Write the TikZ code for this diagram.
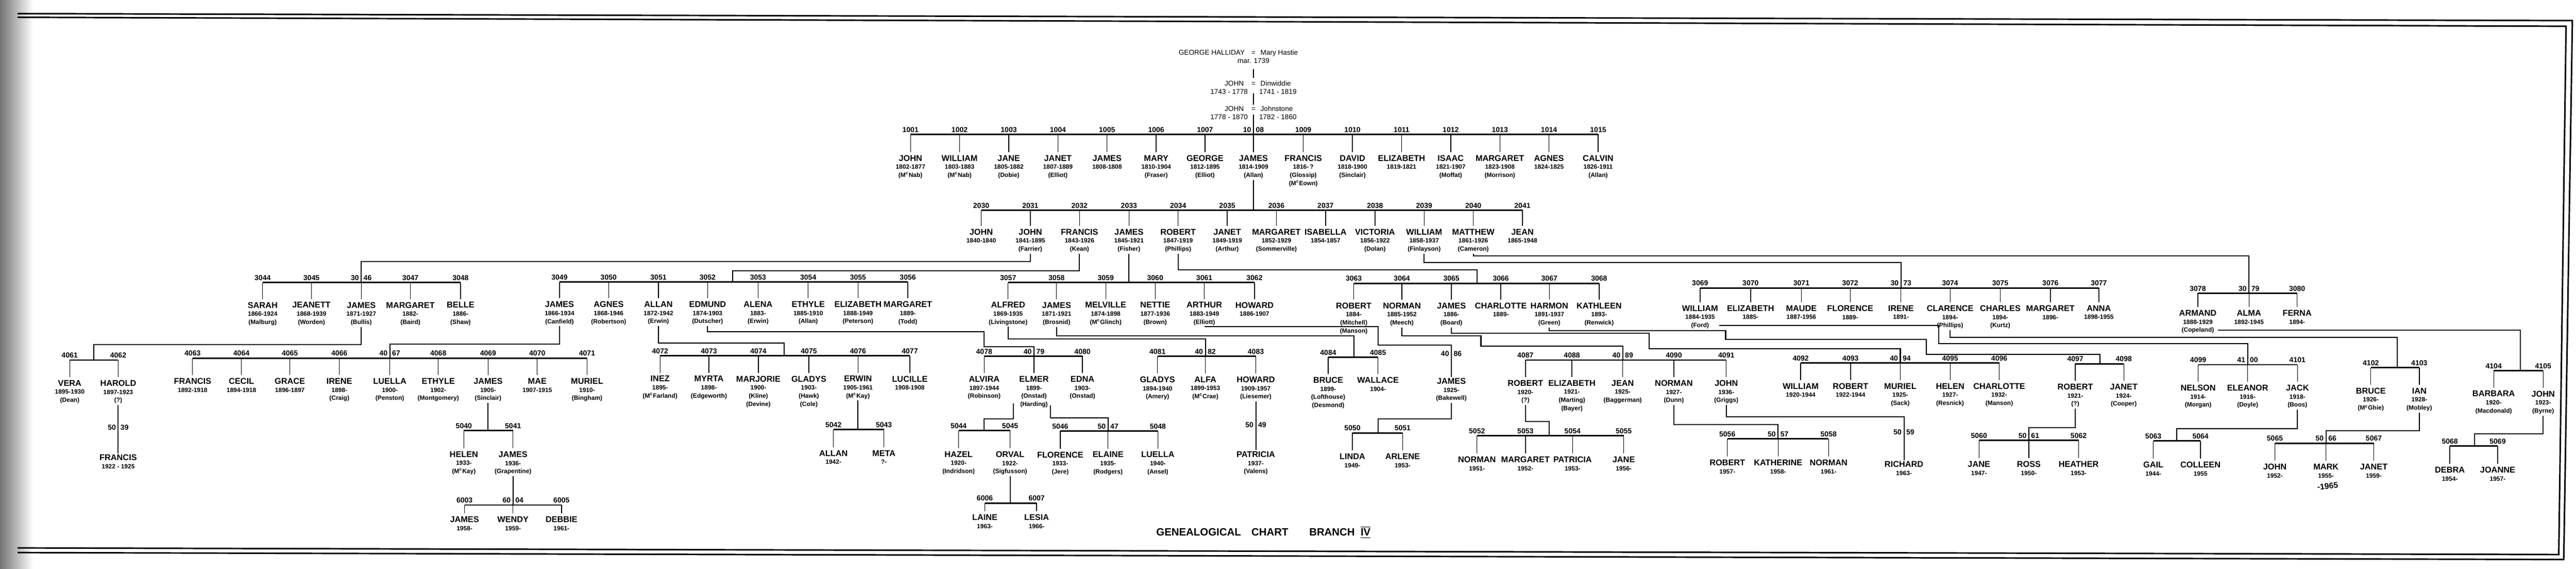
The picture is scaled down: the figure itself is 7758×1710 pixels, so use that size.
\documentclass[tikz,border=0pt]{standalone}
\usepackage{fontspec}
\setmainfont{Liberation Sans}
\usetikzlibrary{calc}

\newcommand{\namefont}{\bfseries\fontsize{7.2}{6.9}\selectfont}
\newcommand{\smallfont}{\bfseries\fontsize{5.3}{6.9}\selectfont}
\newcommand{\Mc}{M\textsuperscript{c}}
% numbers that a connector runs through are split in two
\def\gapsplit#1#2#3#4\relax{#1#2\hspace{4pt}#3#4}
\newcommand{\markgap}[1]{\expandafter\def\csname gap#1\endcsname{}}
\newcommand{\idtext}[1]{\ifcsname gap#1\endcsname\expandafter\gapsplit#1\relax\else#1\fi}
\markgap{1008}\markgap{3046}\markgap{3073}\markgap{3079}\markgap{4067}
\markgap{4079}\markgap{4082}\markgap{4086}\markgap{4089}\markgap{4094}
\markgap{4100}\markgap{5039}\markgap{5047}\markgap{5049}\markgap{5057}
\markgap{5059}\markgap{5061}\markgap{5066}\markgap{6004}

\tikzset{
  person/.style={anchor=north,align=center,inner sep=1pt,font=\smallfont},
  idlab/.style={anchor=south,inner sep=1pt,font=\bfseries\fontsize{6.2}{7}\selectfont},
  hdr/.style={anchor=base,inner sep=1pt,font=\fontsize{6}{7}\selectfont},
  bar/.style={line width=1.3pt},
  drop/.style={line width=0.6pt,shorten >=1.5pt},
  link/.style={line width=0.9pt},
  frame/.style={line width=1.3pt,line join=miter}
}

% one row of brothers and sisters: bar y, name y, first, last, list
\newcommand{\sibs}[5]{%
  \foreach \id/\x/\nm/\dt/\sps in {#5}{
    \coordinate (b\id) at (\x,#1);
    \node[idlab] (i\id) at (\x,#1-2) {\idtext{\id}};
    \node[person] (p\id) at (\x,#2-3.5) {{\namefont\nm}\\\dt\\\sps};
    \draw[drop] (b\id) -- (p\id.north);
  }
  \draw[bar] (b#3) -- (b#4);
}

\begin{document}
\begin{tikzpicture}[x=0.01cm,y=-0.01cm]
\useasboundingbox (0,0) rectangle (7758,1710);
\fill[white] (0,0) rectangle (7758,1710);
\shade[left color=black!55,right color=white] (0,0) rectangle (100,1710);
%% page frame
\draw[frame] (53,41) -- (7747,62) -- (7721,1683) -- (53,1662);
\draw[frame] (53,52) -- (7728,79) -- (7706,1668) -- (53,1648);

%% heads of the branch
\node[hdr,anchor=base east] (gh) at (3753,165) {GEORGE HALLIDAY};
\node[hdr] (eq1) at (3775,165) {=};
\node[hdr,anchor=base west] (mh) at (3792,165) {Mary Hastie};
\node[hdr] (mar) at (3775,190) {mar. 1739};
\node[hdr,anchor=base east] (jd) at (3750,259) {JOHN};
\node[hdr] (eq2) at (3775,259) {=};
\node[hdr,anchor=base west] (dw) at (3792,259) {Dinwiddie};
\node[hdr,anchor=base east] (jdd) at (3762,283) {1743 - 1778};
\node[hdr,anchor=base west] (dwd) at (3788,283) {1741 - 1819};
\node[hdr,anchor=base east] (jj) at (3750,335) {JOHN};
\node[hdr] (eq3) at (3775,335) {=};
\node[hdr,anchor=base west] (js) at (3792,335) {Johnstone};
\node[hdr,anchor=base east] (jjd) at (3762,359) {1778 - 1870};
\node[hdr,anchor=base west] (jsd) at (3788,359) {1782 - 1860};

%% generation 1
\sibs{404}{466}{1001}{1015}{
 1001/2742/JOHN/1802-1877/(\Mc Nab),
 1002/2890/WILLIAM/1803-1883/(\Mc Nab),
 1003/3038/JANE/1805-1882/(Dobie),
 1004/3186/JANET/1807-1889/(Elliot),
 1005/3334/JAMES/1808-1808/{},
 1006/3482/MARY/1810-1904/(Fraser),
 1007/3629/GEORGE/1812-1895/(Elliot),
 1008/3775/JAMES/1814-1909/(Allan),
 1009/3925/FRANCIS/1816-\,?/(Glossip)\\(\Mc Eown),
 1010/4073/DAVID/1818-1900/(Sinclair),
 1011/4221/ELIZABETH/1819-1821/{},
 1012/4369/ISAAC/1821-1907/(Moffat),
 1013/4517/MARGARET/1823-1908/(Morrison),
 1014/4665/AGNES/1824-1825/{},
 1015/4813/CALVIN/1826-1911/(Allan)}

%% generation 2
\sibs{632}{688}{2030}{2041}{
 2030/2955/JOHN/1840-1840/{},
 2031/3103/JOHN/1841-1895/(Farrier),
 2032/3251/FRANCIS/1843-1926/(Kean),
 2033/3400/JAMES/1845-1921/(Fisher),
 2034/3548/ROBERT/1847-1919/(Phillips),
 2035/3696/JANET/1849-1919/(Arthur),
 2036/3844/MARGARET/1852-1929/(Sommerville),
 2037/3992/ISABELLA/1854-1857/{},
 2038/4141/VICTORIA/1856-1922/(Dolan),
 2039/4289/WILLIAM/1858-1937/(Finlayson),
 2040/4437/MATTHEW/1861-1926/(Cameron),
 2041/4585/JEAN/1865-1948/{}}

%% generation 3
\sibs{850}{908}{3044}{3048}{
 3044/791/SARAH/1866-1924/(Malburg),
 3045/938/JEANETT/1868-1939/(Worden),
 3046/1088/JAMES/1871-1927/(Bullis),
 3047/1236/MARGARET/1882-/(Baird),
 3048/1387/BELLE/1886-/(Shaw)}
\sibs{848}{906}{3049}{3056}{
 3049/1685/JAMES/1866-1934/(Canfield),
 3050/1833/AGNES/1868-1946/(Robertson),
 3051/1983/ALLAN/1872-1942/(Erwin),
 3052/2131/EDMUND/1874-1903/(Dutscher),
 3053/2283/ALENA/1883-/(Erwin),
 3054/2434/ETHYLE/1885-1910/(Allan),
 3055/2584/ELIZABETH/1888-1949/(Peterson),
 3056/2734/MARGARET/1889-/(Todd)}
\sibs{850}{908}{3057}{3062}{
 3057/3036/ALFRED/1869-1935/(Livingstone),
 3058/3182/JAMES/1871-1921/(Brosnid),
 3059/3330/MELVILLE/1874-1898/(\Mc Glinch),
 3060/3479/NETTIE/1877-1936/(Brown),
 3061/3627/ARTHUR/1883-1949/(Elliott),
 3062/3778/HOWARD/1886-1907/{}}
\sibs{852}{910}{3063}{3068}{
 3063/4077/ROBERT/1884-/(Mitchell)\\(Manson),
 3064/4222/NORMAN/1885-1952/(Meech),
 3065/4371/JAMES/1886-/(Board),
 3066/4520/CHARLOTTE/1889-/{},
 3067/4666/HARMON/1891-1937/(Green),
 3068/4816/KATHLEEN/1893-/(Renwick)}
\sibs{866}{918}{3069}{3077}{
 3069/5120/WILLIAM/1884-1935/(Ford),
 3070/5272/ELIZABETH/1885-/{},
 3071/5425/MAUDE/1887-1956/{},
 3072/5572/FLORENCE/1889-/{},
 3073/5725/IRENE/1891-/{},
 3074/5873/CLARENCE/1894-/(Phillips),
 3075/6024/CHARLES/1894-/(Kurtz),
 3076/6175/MARGARET/1896-/{},
 3077/6321/ANNA/1898-1955/{}}
\sibs{882}{932}{3078}{3080}{
 3078/6619/ARMAND/1888-1929/(Copeland),
 3079/6773/ALMA/1892-1945/{},
 3080/6918/FERNA/1894-/{}}

%% generation 4
\sibs{1083}{1143}{4061}{4062}{
 4061/210/VERA/1895-1930/(Dean),
 4062/356/HAROLD/1897-1923/(?)}
\sibs{1077}{1137}{4063}{4071}{
 4063/580/FRANCIS/1892-1918/{},
 4064/727/CECIL/1894-1918/{},
 4065/873/GRACE/1896-1897/{},
 4066/1022/IRENE/1898-/(Craig),
 4067/1174/LUELLA/1900-/(Penston),
 4068/1320/ETHYLE/1902-/(Montgomery),
 4069/1470/JAMES/1905-/(Sinclair),
 4070/1618/MAE/1907-1915/{},
 4071/1768/MURIEL/1910-/(Bingham)}
\sibs{1070}{1130}{4072}{4077}{
 4072/1988/INEZ/1895-/(\Mc Farland),
 4073/2135/MYRTA/1898-/(Edgeworth),
 4074/2284/MARJORIE/1900-/(Kline)\\(Devine),
 4075/2436/GLADYS/1903-/(Hawk)\\(Cole),
 4076/2584/ERWIN/1905-1961/(\Mc Kay),
 4077/2740/LUCILLE/1908-1908/{}}
\sibs{1071}{1131}{4078}{4080}{
 4078/2964/ALVIRA/1897-1944/(Robinson),
 4079/3114/ELMER/1899-/(Onstad)\\(Harding),
 4080/3260/EDNA/1903-/(Onstad)}
\sibs{1072}{1132}{4081}{4083}{
 4081/3486/GLADYS/1894-1940/(Amery),
 4082/3630/ALFA/1899-1953/(\Mc Crae),
 4083/3782/HOWARD/1909-1957/(Liesemer)}
\sibs{1074}{1134}{4084}{4085}{
 4084/4000/BRUCE/1899-/(Lofthouse)\\(Desmond),
 4085/4150/WALLACE/1904-/{}}
\node[idlab] (i4086) at (4371,1076) {\idtext{4086}};
\node[person] (p4086) at (4371,1133.5) {{\namefont JAMES}\\1925-\\(Bakewell)};
\sibs{1083}{1143}{4087}{4091}{
 4087/4594/ROBERT/1920-/(?),
 4088/4734/ELIZABETH/1921-/(Marting)\\(Bayer),
 4089/4887/JEAN/1925-/(Baggerman),
 4090/5041/NORMAN/1927-/(Dunn),
 4091/5199/JOHN/1936-/(Griggs)}
\sibs{1092}{1152}{4092}{4096}{
 4092/5423/WILLIAM/1920-1944/{},
 4093/5573/ROBERT/1922-1944/{},
 4094/5723/MURIEL/1925-/(Sack),
 4095/5873/HELEN/1927-/(Resnick),
 4096/6021/CHARLOTTE/1932-/(Manson)}
\sibs{1094}{1154}{4097}{4098}{
 4097/6250/ROBERT/1921-/(?),
 4098/6396/JANET/1924-/(Cooper)}
\sibs{1097}{1157}{4099}{4101}{
 4099/6620/NELSON/1914-/(Morgan),
 4100/6769/ELEANOR/1916-/(Doyle),
 4101/6919/JACK/1918-/(Boos)}
\sibs{1106}{1166}{4102}{4103}{
 4102/7140/BRUCE/1926-/(\Mc Ghie),
 4103/7286/IAN/1928-/(Mobley)}
\sibs{1115}{1175}{4104}{4105}{
 4104/7510/BARBARA/1920-/(Macdonald),
 4105/7659/JOHN/1923-/(Byrne)}

%% generation 5
\node[idlab] (i5039) at (356,1297) {\idtext{5039}};
\node[person] (p5039) at (356,1363.5) {{\namefont FRANCIS}\\1922 - 1925};
\sibs{1295}{1357}{5040}{5041}{
 5040/1397/HELEN/1933-/(\Mc Kay),
 5041/1545/JAMES/1936-/(Grapentine)}
\sibs{1292}{1354}{5042}{5043}{
 5042/2510/ALLAN/1942-/{},
 5043/2662/META/?-/{}}
\sibs{1295}{1357}{5044}{5045}{
 5044/2887/HAZEL/1920-/(Indridson),
 5045/3042/ORVAL/1922-/(Sigfusson)}
\sibs{1296}{1358}{5046}{5048}{
 5046/3193/FLORENCE/1933-/(Jere),
 5047/3337/ELAINE/1935-/(Rodgers),
 5048/3487/LUELLA/1940-/(Ansel)}
\node[idlab] (i5049) at (3782,1290) {\idtext{5049}};
\node[person] (p5049) at (3782,1353.5) {{\namefont PATRICIA}\\1937-\\(Valens)};
\sibs{1302}{1364}{5050}{5051}{
 5050/4073/LINDA/1949-/{},
 5051/4224/ARLENE/1953-/{}}
\sibs{1311}{1373}{5052}{5055}{
 5052/4448/NORMAN/1951-/{},
 5053/4594/MARGARET/1952-/{},
 5054/4736/PATRICIA/1953-/{},
 5055/4890/JANE/1956-/{}}
\sibs{1320}{1382}{5056}{5058}{
 5056/5202/ROBERT/1957-/{},
 5057/5355/KATHERINE/1958-/{},
 5058/5507/NORMAN/1961-/{}}
\node[idlab] (i5059) at (5734,1312) {\idtext{5059}};
\node[person] (p5059) at (5734,1383.5) {{\namefont RICHARD}\\1963-};
\sibs{1325}{1387}{5060}{5062}{
 5060/5960/JANE/1947-/{},
 5061/6110/ROSS/1950-/{},
 5062/6260/HEATHER/1953-/{}}
\sibs{1326}{1388}{5063}{5064}{
 5063/6485/GAIL/1944-/{},
 5064/6627/COLLEEN/1955/{}}
\sibs{1333}{1395}{5065}{5067}{
 5065/6851/JOHN/1952-/{},
 5066/7005/MARK/1955-/{},
 5067/7149/JANET/1959-/{}}
\sibs{1342}{1404}{5068}{5069}{
 5068/7378/DEBRA/1954-/{},
 5069/7522/JOANNE/1957-/{}}

%% generation 6
\sibs{1519}{1553}{6003}{6005}{
 6003/1399/JAMES/1958-/{},
 6004/1545/WENDY/1959-/{},
 6005/1691/DEBBIE/1961-/{}}
\sibs{1513}{1547}{6006}{6007}{
 6006/2966/LAINE/1963-/{},
 6007/3122/LESIA/1966-/{}}

%% junctions on the bars
\coordinate (f2) at (3775,632);
\coordinate (f3b) at (2206,848);
\coordinate (f3c) at (3400,850);
\coordinate (f3d) at (4448,852);
\coordinate (f4g) at (282,1083);
\coordinate (f4i) at (2362,1070);
\coordinate (f4l) at (4077,1074);
\coordinate (f4p) at (6324,1094);
\coordinate (f4r) at (7219,1106);
\coordinate (f4s) at (7590,1115);
\coordinate (f5t) at (1470,1295);
\coordinate (f5u) at (2584,1292);
\coordinate (f5v) at (2964,1295);
\coordinate (f5y) at (4150,1302);
\coordinate (f5z) at (4666,1311);
\coordinate (f5ad) at (6555,1326);
\coordinate (f5af) at (7452,1342);
\coordinate (f6h) at (3042,1513);
\coordinate (e3069) at (p3069.east |- 0,979);
\coordinate (e3078) at (p3078.east |- 0,993);
\coordinate (e4079a) at ([xshift=-0.62cm,yshift=0.17cm]p4079.south);
\coordinate (e4079b) at ([xshift=0.5cm,yshift=0.1cm]p4079.south);

%% parents to children
\draw[link,shorten <=0.13cm,shorten >=0.1cm] (mar.south) -- (eq2.north);
\draw[link,shorten <=0.17cm,shorten >=0.06cm] (eq2.south) -- (eq3.north);
\draw[link,shorten <=0.05cm] (eq3.south) -- (b1008);
\draw[link] (p1008.south) -- (f2);

\draw[link] (p2031.south) -- (p2031.south |- 0,786) -| (b3046);
\draw[link] (p2032.south) -- (p2032.south |- 0,815) -| (f3b);
\draw[link] (p2033.south) -- (f3c);
\draw[link] (p2034.south) -- (p2034.south |- 0,812) -| (f3d);
\draw[link] (p2039.south) -- (p2039.south |- 0,790) -| (b3073);
\draw[link] (p2040.south) -- (p2040.south |- 0,770) -| (b3079);

\draw[link] (p3046.south) -- (p3046.south |- 0,1037) -| (f4g);
\draw[link] (p3049.south) -- (p3049.south |- 0,1035) -| (b4067);
\draw[link] (p3051.south) -- (p3051.south |- 0,1032) -| (f4i);
\draw[link] (p3052.south) -- (p3052.south |- 0,998) -| (2964,1043) -| (b4079);
\draw[link] (p3057.south) -- (p3057.south |- 0,1020) -| (b4082);
\draw[link] (p3058.south) -- (p3058.south |- 0,1010) -| (f4l);
\draw[link] (p3061.south) -| (4150,1038) -| (p4086.north);
\draw[link] (p3064.south) -- (p3064.south |- 0,1010) -| (4460,1041) -| (b4089);
\draw[link] (p3065.south) -- (p3065.south |- 0,1002) -| (4966,1049) -| (b4094);
\draw[link] (p3067.south) -- (p3067.south |- 0,994) -| (5197,1021) -| (5802,1066) -| (f4p);
\draw[link] (e3069) -| (5839,1034) -| (b4100);
\draw[link] (p3074.south) -- (p3074.south |- 0,1015) -| (f4r);
\draw[link] (e3078) -| (f4s);

\draw[link] (p4062.south) -- (p5039.north);
\draw[link] (p4069.south) -- (f5t);
\draw[link] (p4076.south) -- (f5u);
\draw[link] (e4079a) -- (e4079a |- 0,1260) -| (f5v);
\draw[link] (e4079b) -- (e4079b |- 0,1257) -| (b5047);
\draw[link] (p4083.south) -- (p5049.north);
\draw[link] (p4086.south) -- (p4086.south |- 0,1260) -| (f5y);
\draw[link] (p4087.south) -- (p4087.south |- 0,1268) -| (f5z);
\draw[link] (p4090.south) -- (p4090.south |- 0,1277) -| (b5057);
\draw[link] (p4091.south) -- (p4091.south |- 0,1253) -| (p5059.north);
\draw[link] (p4097.south) -- (p4097.south |- 0,1287) -| (b5061);
\draw[link] (p4101.south) -- (p4101.south |- 0,1290) -| (f5ad);
\draw[link] (p4103.south) -- (p4103.south |- 0,1295) -| (b5066);
\draw[link] (p4105.south) -- (p4105.south |- 0,1305) -| (f5af);

\draw[link] (p5041.south) -- (b6004);
\draw[link] (p5045.south) -- (f6h);

%% title and note
\node[font=\bfseries\fontsize{9}{10}\selectfont] (title) at (3805,1601)
  {GENEALOGICAL\quad CHART\qquad BRANCH\ \ $\overline{\underline{\hbox{IV}}}$};
\node[font=\bfseries\fontsize{7}{8}\selectfont,rotate=6] (mk) at (7010,1462) {-1965};
\end{tikzpicture}
\end{document}
